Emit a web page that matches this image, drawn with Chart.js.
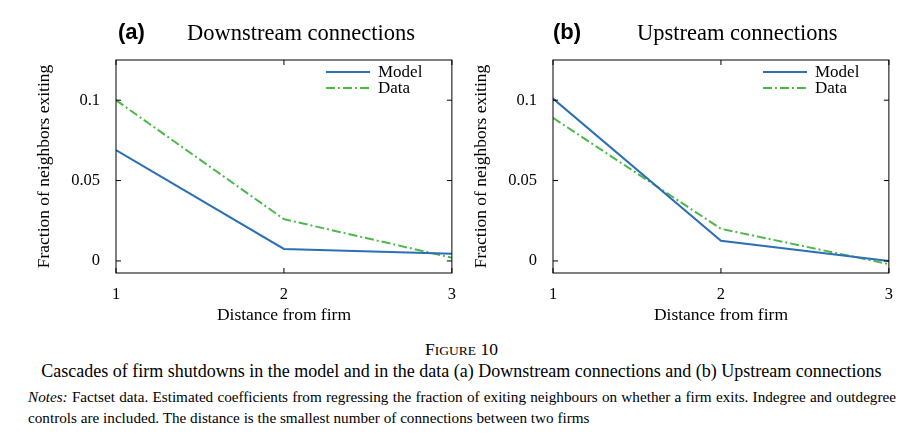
<!DOCTYPE html>
<html><head><meta charset="utf-8">
<script src="https://cdn.jsdelivr.net/npm/chart.js@4"></script>
<style>
body{margin:0;width:923px;height:436px;background:#fff;font-family:"Liberation Serif",serif;position:relative;overflow:hidden}
.cv{position:absolute;top:40px;width:460px;height:290px}
.lab{position:absolute;top:19px;font:bold 22px "Liberation Sans",Arial,sans-serif}
.ttl{position:absolute;top:20px;font-size:22.5px}
.leg{position:absolute;font-size:17px;line-height:16px}
.leg div{display:flex;align-items:center;justify-content:flex-start}
.leg svg{margin-right:8px}
.cap{position:absolute;left:0;width:923px;text-align:center}
.notes{position:absolute;left:28px;width:868px;font-size:15.2px;line-height:21px;text-align:justify;text-align-last:left}
</style></head><body>
<div class="cv" style="left:0"><canvas id="ca"></canvas></div>
<div class="cv" style="left:437px"><canvas id="cb"></canvas></div>
<div class="lab" style="left:118px">(a)</div>
<div class="ttl" style="left:187px">Downstream connections</div>
<div class="lab" style="left:553px">(b)</div>
<div class="ttl" style="left:637px">Upstream connections</div>
<div class="leg" style="left:326px;top:64px">
<div><svg width="44" height="4"><line x1="0" y1="2" x2="44" y2="2" stroke="#2c6fb4" stroke-width="2"/></svg>Model</div>
<div><svg width="44" height="4"><line x1="0" y1="2" x2="44" y2="2" stroke="#4cb848" stroke-width="2" stroke-dasharray="9,3,2,3"/></svg>Data</div></div>
<div class="leg" style="left:763px;top:64px">
<div><svg width="44" height="4"><line x1="0" y1="2" x2="44" y2="2" stroke="#2c6fb4" stroke-width="2"/></svg>Model</div>
<div><svg width="44" height="4"><line x1="0" y1="2" x2="44" y2="2" stroke="#4cb848" stroke-width="2" stroke-dasharray="9,3,2,3"/></svg>Data</div></div>
<div class="cap" style="top:339px;font-size:17.5px">F<span style="font-size:13.5px">IGURE</span> 10</div>
<div class="cap" style="top:361px;font-size:18px">Cascades of firm shutdowns in the model and in the data (a) Downstream connections and (b) Upstream connections</div>
<div class="notes" style="top:386px"><i>Notes:</i> Factset data. Estimated coefficients from regressing the fraction of exiting neighbours on whether a firm exits. Indegree and outdegree controls are included. The distance is the smallest number of connections between two firms</div>
<script>
const distances = [1, 2, 3];
const yTicks = [0, 0.05, 0.1];
const downModel = [0.069, 0.0075, 0.0044];
const downData = [0.100, 0.026, 0.002];
const upModel = [0.101, 0.0125, 0.0];
const upData = [0.089, 0.020, -0.002];

const F = {family: "Liberation Serif", size: 16.5};
const frame = {
  id: "frame",
  afterDraw(c) {
    const a = c.chartArea, g = c.ctx;
    g.save(); g.strokeStyle = "#000"; g.lineWidth = 1;
    g.strokeRect(a.left, a.top, a.right - a.left, a.bottom - a.top);
    g.beginPath();
    c.scales.x.ticks.forEach(t => {
      const x = c.scales.x.getPixelForValue(t.value);
      g.moveTo(x, a.bottom); g.lineTo(x, a.bottom - 5);
      g.moveTo(x, a.top); g.lineTo(x, a.top + 5);
    });
    c.scales.y.ticks.forEach(t => {
      const y = c.scales.y.getPixelForValue(t.value);
      g.moveTo(a.left, y); g.lineTo(a.left + 5, y);
      g.moveTo(a.right, y); g.lineTo(a.right - 5, y);
    });
    g.stroke(); g.restore();
  }
};

function make(id, model, data) {
  new Chart(document.getElementById(id), {
    type: "line",
    data: {
      datasets: [
        {label: "Model", data: distances.map((d, i) => ({x: d, y: model[i]})), borderColor: "#2c6fb4", borderWidth: 2, pointRadius: 0, tension: 0},
        {label: "Data", data: distances.map((d, i) => ({x: d, y: data[i]})), borderColor: "#4cb848", borderWidth: 2, borderDash: [9, 3, 2, 3], pointRadius: 0, tension: 0}
      ]
    },
    options: {
      responsive: true, maintainAspectRatio: false, animation: false,
      layout: {padding: {left: 34, right: 8, top: 20, bottom: 0}},
      plugins: {legend: {display: false}, tooltip: {enabled: false}},
      scales: {
        x: {type: "linear", min: 1, max: 3,
          ticks: {stepSize: 1, color: "#000", font: F, padding: 4},
          grid: {display: false}, border: {display: false},
          title: {display: true, text: "Distance from firm", color: "#000", font: {family: "Liberation Serif", size: 17.5}, padding: {top: 0}},
          afterFit(s) { s.height = 57; }},
        y: {min: -0.0075, max: 0.125,
          afterBuildTicks(s) { s.ticks = yTicks.map(v => ({value: v})); },
          ticks: {color: "#000", font: F, padding: 8, callback: v => String(v)},
          grid: {display: false}, border: {display: false},
          title: {display: true, text: "Fraction of neighbors exiting", color: "#000", font: {family: "Liberation Serif", size: 17.5}, padding: 0},
          afterFit(s) { s.width = 82; }}
      }
    },
    plugins: [frame]
  });
}
make("ca", downModel, downData);
make("cb", upModel, upData);
</script>
</body></html>
